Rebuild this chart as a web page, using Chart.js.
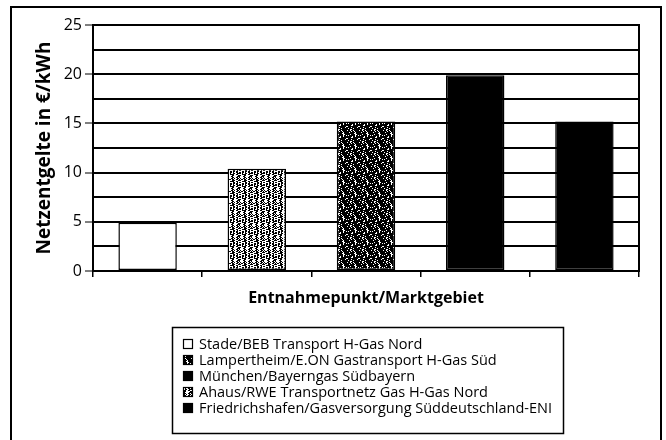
<!DOCTYPE html>
<html><head><meta charset="utf-8">
<script src="https://cdn.jsdelivr.net/npm/chart.js@4.4.1/dist/chart.umd.min.js"></script>
<style>html,body{margin:0;padding:0;background:#fff}#wrap{position:relative;width:666px;height:440px}</style>
</head><body><div id="wrap"><canvas id="c" width="666" height="440"></canvas></div>
<script>
// ---- data ----
const categories = [
  'Stade/BEB Transport H-Gas Nord',
  'Ahaus/RWE Transportnetz Gas H-Gas Nord',
  'Lampertheim/E.ON Gastransport H-Gas Süd',
  'München/Bayerngas Südbayern',
  'Friedrichshafen/Gasversorgung Süddeutschland-ENI'
];
const values = [4.9, 10.4, 15.2, 19.9, 15.2];
const legendOrder = [0, 2, 3, 1, 4];
const fillKinds = ['white', 'light', 'dark', 'black', 'black'];
const yTickLabels = ['0', '5', '10', '15', '20', '25'];
const yMin = 0, yMax = 25, yStep = 2.5;
const xTitle = 'Entnahmepunkt/Marktgebiet';
const yTitle = 'Netzentgelte in €/kWh';

const FONT = "'Open Sans', 'Noto Sans', sans-serif";
const canvas = document.getElementById('c');
const mainCtx = canvas.getContext('2d');

function makePattern(threshold) {
  const n = 12;
  const t = document.createElement('canvas');
  t.width = n; t.height = n;
  const g = t.getContext('2d');
  g.fillStyle = '#fff'; g.fillRect(0, 0, n, n);
  g.fillStyle = '#000';
  for (let y = 0; y < n; y++) for (let x = 0; x < n; x++) {
    const h = (x * 73 + y * 151 + x * y * 37 + (x ^ y) * 11) % 100;
    if (h < threshold) g.fillRect(x, y, 1, 1);
  }
  return mainCtx.createPattern(t, 'repeat');
}
const fills = {
  white: '#ffffff',
  light: makePattern(52),
  dark: makePattern(84),
  black: '#000000'
};

const datasets = legendOrder.map(i => ({
  label: categories[i],
  data: categories.map((_, j) => j === i ? values[i] : null),
  backgroundColor: fills[fillKinds[i]],
  borderColor: '#000',
  borderWidth: 1.5,
  borderSkipped: false,
  skipNull: true,
  categoryPercentage: 1,
  barPercentage: 0.535
}));

const framePlugin = {
  id: 'frame',
  beforeDatasetsDraw(chart) {
    const { ctx, chartArea: a } = chart;
    ctx.save();
    ctx.strokeStyle = '#000';
    ctx.lineWidth = 2;
    ctx.strokeRect(Math.round(a.left), Math.round(a.top), Math.round(a.right - a.left), Math.round(a.bottom - a.top));
    ctx.restore();
  },
  afterDraw(chart) {
    const ctx = chart.ctx;
    ctx.save();
    ctx.strokeStyle = '#000';
    ctx.lineWidth = 2;
    ctx.beginPath();
    ctx.moveTo(11, 450); ctx.lineTo(11, 7); ctx.lineTo(661, 7); ctx.lineTo(661, 450);
    ctx.stroke();
    // legend box
    const lx = 172, ly = 327, lw = 391, lh = 106;
    ctx.lineWidth = 1.5;
    ctx.strokeRect(lx + 0.5, ly + 0.5, lw, lh);
    ctx.font = '14.5px ' + FONT;
    ctx.textBaseline = 'middle';
    chart.data.datasets.forEach((ds, k) => {
      const cy = 344 + k * 16;
      const bx = 183, bs = 10;
      ctx.fillStyle = ds.backgroundColor;
      ctx.fillRect(bx, cy - bs / 2, bs, bs);
      ctx.lineWidth = 1.2;
      ctx.strokeStyle = '#000';
      ctx.strokeRect(bx + 0.5, cy - bs / 2 + 0.5, bs - 1, bs - 1);
      ctx.fillStyle = '#000';
      ctx.fillText(ds.label, 199, cy + 0.5);
    });
    ctx.restore();
  }
};

new Chart(canvas, {
  type: 'bar',
  data: { labels: categories, datasets },
  options: {
    responsive: false,
    animation: false,
    devicePixelRatio: 1,
    layout: { padding: { left: 0, top: 25, right: 27, bottom: 132 } },
    plugins: { legend: { display: false }, tooltip: { enabled: false } },
    scales: {
      x: {
        offset: true,
        grid: { offset: true, drawOnChartArea: false, drawTicks: true, tickLength: 6, color: '#000', lineWidth: 1.5 },
        border: { display: true, color: '#000', width: 2 },
        ticks: { callback: () => '', font: { size: 2 } },
        title: { display: true, text: xTitle, color: '#000', font: { family: FONT, size: 16, weight: 'bold' }, padding: { top: 0, bottom: 0 } },
        afterFit(scale) { scale.height = 37; }
      },
      y: {
        min: yMin, max: yMax,
        ticks: {
          stepSize: yStep,
          padding: 3,
          color: '#000',
          font: { family: FONT, size: 16 },
          callback: (v) => yTickLabels.includes(String(v)) ? String(v) : ''
        },
        grid: {
          color: '#000', lineWidth: 2, drawTicks: true, tickLength: 8, tickWidth: 1,
          tickColor: (c) => (c.tick && c.tick.value % 5 === 0) ? '#000' : 'rgba(0,0,0,0)'
        },
        border: { display: true, color: '#000', width: 2 },
        title: { display: true, text: yTitle, color: '#000', font: { family: FONT, size: 19, weight: 'bold' }, padding: { top: 33, bottom: 0 } },
        afterFit(scale) { scale.width = 93; }
      }
    }
  },
  plugins: [framePlugin]
});
</script></body></html>
